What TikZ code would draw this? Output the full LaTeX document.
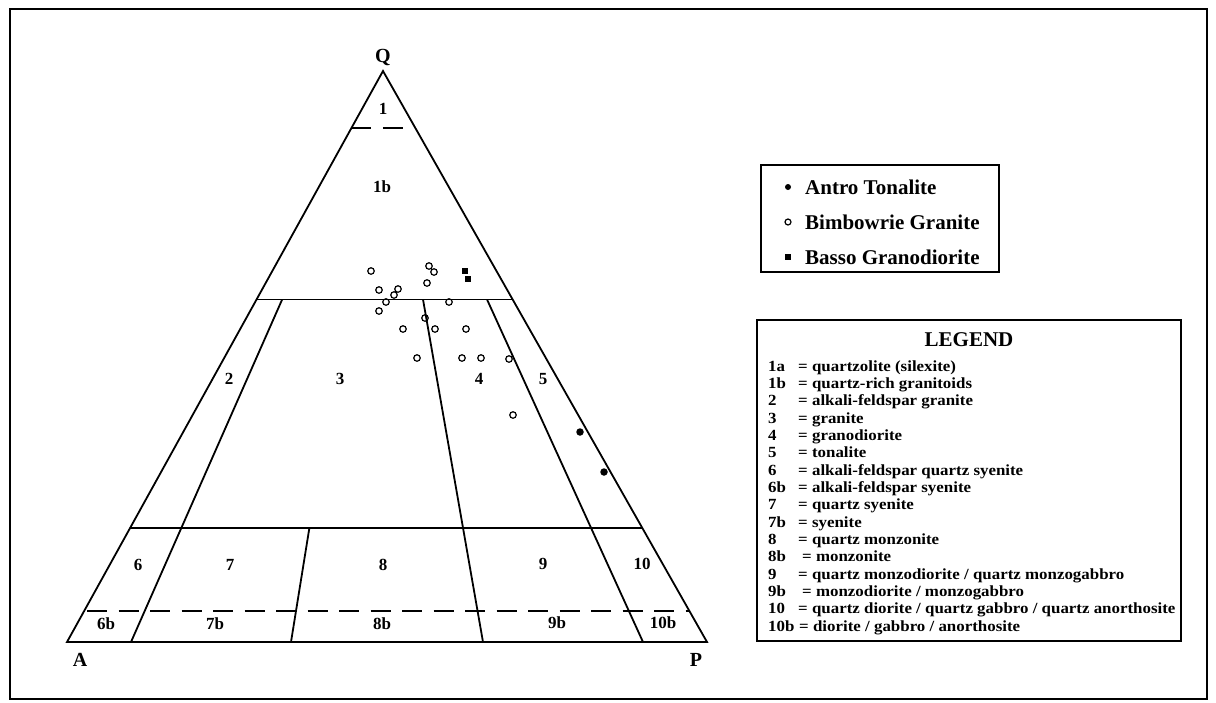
\documentclass[tikz,border=0pt]{standalone}
\usepackage{fontspec}
\setmainfont{Liberation Serif}
\newfontfamily\legfont[FakeStretch=1.09]{Liberation Serif}
\begin{document}
\begin{tikzpicture}[x=1pt,y=-1pt,
  bound/.style={line width=1.8pt},
  dashbound/.style={line width=1.8pt, dash pattern=on 20pt off 11.5pt},
  region/.style={font=\fontsize{17}{19}\selectfont\bfseries, inner sep=0pt},
  vertex/.style={font=\fontsize{20}{22}\selectfont\bfseries, inner sep=0pt},
  granite/.style={circle, draw, line width=1.2pt, minimum size=6.5pt, inner sep=0pt},
  tonalite/.style={circle, fill, minimum size=7.5pt, inner sep=0pt},
  granodiorite/.style={rectangle, fill, minimum width=6pt, minimum height=6.5pt, inner sep=0pt},
  boxframe/.style={line width=1.4pt},
  symtext/.style={font=\fontsize{21}{24}\selectfont\bfseries, anchor=west, inner sep=0pt},
  legkey/.style={font=\legfont\fontsize{15.5}{17}\selectfont\bfseries, anchor=base west, inner sep=0pt},
]
\useasboundingbox (0,0) rectangle (1216,702);
\fill[white] (0,0) rectangle (1216,702);
% outer frame
\draw[line width=1.6pt] (10,9) rectangle (1207,699);

% triangle vertices
\coordinate (A) at (67,642);
\coordinate (Q) at (383,71);
\coordinate (P) at (707,642);
\draw[bound, line join=miter] (A) -- (Q) -- (P) -- cycle;

% horizontal boundaries
\coordinate (q90L) at (351.4,128.1);
\coordinate (q90E) at (404,128.1);
\coordinate (q60L) at (256.6,299.4);
\coordinate (q60R) at (512.6,299.4);
\coordinate (q20L) at (130.2,527.8);
\coordinate (q20R) at (642.2,527.8);
\coordinate (q05L) at (84.2,611);
\coordinate (q05R) at (689.4,611);
\draw[dashbound] (q90L) -- (q90E);
\draw[bound] (q60L) -- (q60R);
\draw[bound] (q20L) -- (q20R);
\draw[dashbound, dash phase=-3pt] (q05L) -- (q05R);

% radial boundaries
\coordinate (r10t) at (282.2,299.4);
\coordinate (r10b) at (131,642);
\coordinate (r65t) at (423,299.4);
\coordinate (r65b) at (483,642);
\coordinate (r90t) at (487,299.4);
\coordinate (r90b) at (643,642);
\coordinate (r35t) at (309.4,527.8);
\coordinate (r35b) at (291,642);
\draw[bound] (r10t) -- (r10b);
\draw[bound] (r65t) -- (r65b);
\draw[bound] (r90t) -- (r90b);
\draw[bound] (r35t) -- (r35b);

% vertex labels
\node[vertex] (lQ) at (383,57) {Q};
\node[vertex] (lA) at (80,660) {A};
\node[vertex] (lP) at (696,660) {P};

% region labels
\node[region] (f1) at (383,109) {1};
\node[region] (f1b) at (382,187) {1b};
\node[region] (f2) at (229,379) {2};
\node[region] (f3) at (340,379) {3};
\node[region] (f4) at (479,379) {4};
\node[region] (f5) at (543,379) {5};
\node[region] (f6) at (138,565) {6};
\node[region] (f7) at (230,565) {7};
\node[region] (f8) at (383,565) {8};
\node[region] (f9) at (543,564) {9};
\node[region] (f10) at (642,564) {10};
\node[region] (f6b) at (106,624) {6b};
\node[region] (f7b) at (215,624) {7b};
\node[region] (f8b) at (382,624) {8b};
\node[region] (f9b) at (557,623) {9b};
\node[region] (f10b) at (663,623) {10b};

% Bimbowrie Granite
\node[granite] (b1) at (371,271) {};
\node[granite] (b2) at (429,266) {};
\node[granite] (b3) at (434,272) {};
\node[granite] (b4) at (427,283) {};
\node[granite] (b5) at (379,290) {};
\node[granite] (b6) at (398,289) {};
\node[granite] (b7) at (394,295) {};
\node[granite] (b8) at (386,302) {};
\node[granite] (b9) at (379,311) {};
\node[granite] (b10) at (449,302) {};
\node[granite] (b11) at (425,318) {};
\node[granite] (b12) at (403,329) {};
\node[granite] (b13) at (435,329) {};
\node[granite] (b14) at (466,329) {};
\node[granite] (b15) at (417,358) {};
\node[granite] (b16) at (462,358) {};
\node[granite] (b17) at (481,358) {};
\node[granite] (b18) at (509,359) {};
\node[granite] (b19) at (513,415) {};
% Basso Granodiorite
\node[granodiorite] (s1) at (465,271) {};
\node[granodiorite] (s2) at (468,279) {};
% Antro Tonalite
\node[tonalite] (a1) at (580,432) {};
\node[tonalite] (a2) at (604,472) {};

% symbol legend
\draw[boxframe] (761,165) rectangle (999,272);
\node[tonalite, minimum size=6pt] (ka) at (788,187) {};
\node[granite, minimum size=6pt] (kb) at (788,222) {};
\node[granodiorite, minimum width=6pt, minimum height=6pt] (kc) at (788,257) {};
\node[symtext] (ta) at (805,187) {Antro Tonalite};
\node[symtext] (tb) at (805,222) {Bimbowrie Granite};
\node[symtext] (tc) at (805,257) {Basso Granodiorite};

% main legend
\draw[boxframe] (757,320) rectangle (1181,641);
\node[font=\fontsize{21}{23}\selectfont\bfseries, inner sep=0pt] (lt) at (969,340) {LEGEND};
\node[legkey] (k0) at (768,371) {1a};    \node[legkey] (e0) at (798,371) {= quartzolite (silexite)};
\node[legkey] (k1) at (768,388.3) {1b};  \node[legkey] (e1) at (798,388.3) {= quartz-rich granitoids};
\node[legkey] (k2) at (768,405.7) {2};   \node[legkey] (e2) at (798,405.7) {= alkali-feldspar granite};
\node[legkey] (k3) at (768,423) {3};     \node[legkey] (e3) at (798,423) {= granite};
\node[legkey] (k4) at (768,440.3) {4};   \node[legkey] (e4) at (798,440.3) {= granodiorite};
\node[legkey] (k5) at (768,457.7) {5};   \node[legkey] (e5) at (798,457.7) {= tonalite};
\node[legkey] (k6) at (768,475) {6};     \node[legkey] (e6) at (798,475) {= alkali-feldspar quartz syenite};
\node[legkey] (k7) at (768,492.3) {6b};  \node[legkey] (e7) at (798,492.3) {= alkali-feldspar syenite};
\node[legkey] (k8) at (768,509.7) {7};   \node[legkey] (e8) at (798,509.7) {= quartz syenite};
\node[legkey] (k9) at (768,527) {7b};    \node[legkey] (e9) at (798,527) {= syenite};
\node[legkey] (k10) at (768,544.3) {8};  \node[legkey] (e10) at (798,544.3) {= quartz monzonite};
\node[legkey] (k11) at (768,561.7) {8b}; \node[legkey] (e11) at (802,561.7) {= monzonite};
\node[legkey] (k12) at (768,579) {9};    \node[legkey] (e12) at (798,579) {= quartz monzodiorite / quartz monzogabbro};
\node[legkey] (k13) at (768,596.3) {9b}; \node[legkey] (e13) at (802,596.3) {= monzodiorite / monzogabbro};
\node[legkey] (k14) at (768,613.7) {10}; \node[legkey] (e14) at (798,613.7) {= quartz diorite / quartz gabbro / quartz anorthosite};
\node[legkey] (k15) at (768,631) {10b};  \node[legkey] (e15) at (799,631) {= diorite / gabbro / anorthosite};
\end{tikzpicture}
\end{document}
